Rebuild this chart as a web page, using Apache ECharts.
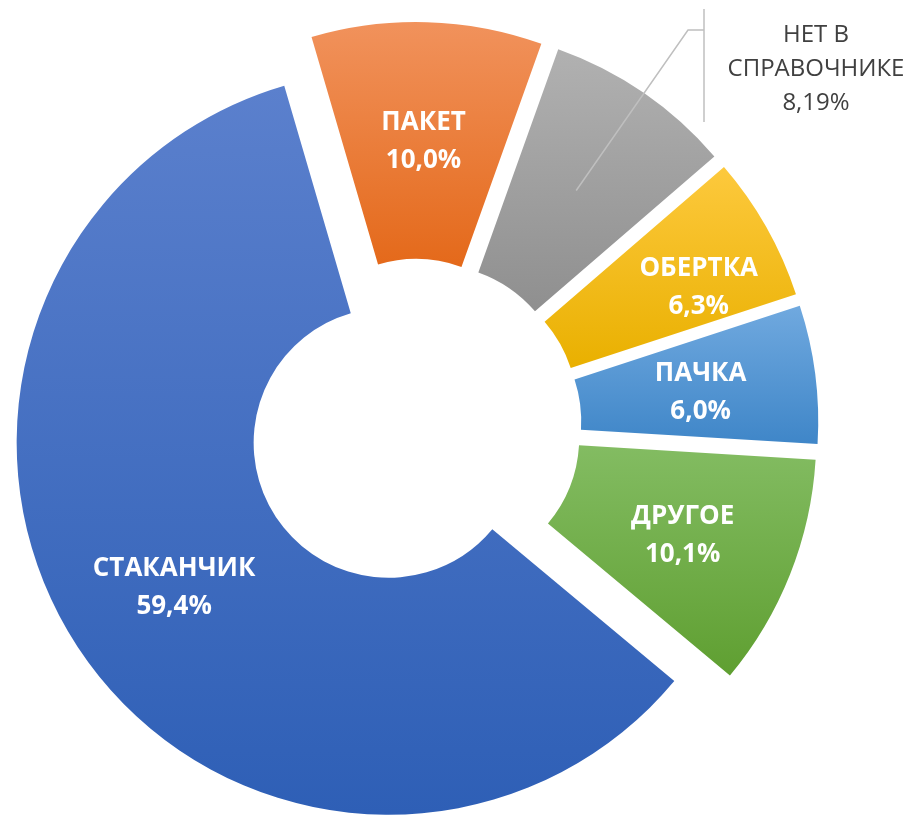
<!DOCTYPE html>
<html>
<head>
<meta charset="utf-8">
<script src="https://cdn.jsdelivr.net/npm/echarts@6/dist/echarts.min.js"></script>
<style>
    html, body { margin: 0; padding: 0; background: #fff; }
    #chart { width: 912px; height: 816px; }
</style>
</head>
<body>
<div id="chart"></div>
<script>
// data, clockwise from the top
const names = ['ПАКЕТ', 'НЕТ В\nСПРАВОЧНИКЕ', 'ОБЕРТКА', 'ПАЧКА', 'ДРУГОЕ', 'СТАКАНЧИК'];
const values = [10.0, 8.19, 6.3, 6.0, 10.1, 59.4];
const pctLabels = ['10,0%', '8,19%', '6,3%', '6,0%', '10,1%', '59,4%'];

const topColors = ['#f1925c', '#b1b1b1', '#fdc93d', '#70a9df', '#83bc62', '#5b80cd'];
const bottomColors = ['#e4691a', '#8f8f8f', '#e9b000', '#3f86c8', '#5f9f31', '#2e5fb6'];

const cx = 415, cy = 425.5;
const rIn = 135, rOut = 372;
const startAngle = 106.3;
const explode = 31.5;

let chart = echarts.init(document.getElementById('chart'));

let total = values.reduce((a, b) => a + b, 0);

// middle angle of a slice (degrees, counter-clockwise from 3 o'clock)
function midAngle(idx) {
    let before = 0;
    for (let i = 0; i < idx; i++) before += values[i];
    return startAngle - (before + values[idx] / 2) / total * 360;
}

const outsideIdx = 1;

let seriesData = names.map((name, i) => {
    let item = {
        name: name,
        value: values[i],
        selected: true,
        itemStyle: {
            color: new echarts.graphic.LinearGradient(0, 0, 0, 1, [
                { offset: 0, color: topColors[i] },
                { offset: 1, color: bottomColors[i] }
            ])
        }
    };
    if (i === outsideIdx) {
        item.label = { show: false };
    }
    return item;
});

// leader line for the outside label starts in the middle of the ring
let a = midAngle(outsideIdx) * Math.PI / 180;
let rMid = (rIn + rOut) / 2;
let leadStart = [cx + (explode + rMid) * Math.cos(a), cy - (explode + rMid) * Math.sin(a)];

let option = {
    animation: false,
    graphic: [
        {
            type: 'polyline',
            z: 10,
            shape: { points: [leadStart, [688, 30], [704, 30]] },
            style: { stroke: '#bfbfbf', lineWidth: 1.5, fill: null }
        },
        {
            type: 'line',
            z: 10,
            shape: { x1: 704, y1: 9, x2: 704, y2: 122 },
            style: { stroke: '#bfbfbf', lineWidth: 1.5 }
        },
        {
            type: 'text',
            z: 10,
            x: 816,
            y: 69,
            style: {
                text: names[outsideIdx] + '\n' + pctLabels[outsideIdx],
                fill: '#404040',
                font: '24px "Open Sans", "Noto Sans", sans-serif',
                lineHeight: 34,
                align: 'center',
                verticalAlign: 'middle'
            }
        }
    ],
    series: [
        {
            type: 'pie',
            center: [cx, cy],
            radius: [rIn, rOut],
            startAngle: startAngle,
            clockwise: true,
            selectedMode: 'multiple',
            selectedOffset: explode,
            avoidLabelOverlap: false,
            emphasis: { disabled: true },
            label: {
                show: true,
                position: 'inside',
                color: '#ffffff',
                fontFamily: '"Open Sans", "Noto Sans", sans-serif',
                fontWeight: 'bold',
                fontSize: 26,
                lineHeight: 38,
                align: 'center',
                formatter: (p) => p.name + '\n' + pctLabels[p.dataIndex]
            },
            labelLine: { show: false },
            labelLayout: (params) => {
                // Excel pushed the ОБЕРТКА label outward a bit
                if (params.dataIndex === 2) return { dx: 33, dy: 4 };
                return { dy: 4 };
            },
            data: seriesData
        }
    ]
};

chart.setOption(option);
</script>
</body>
</html>
